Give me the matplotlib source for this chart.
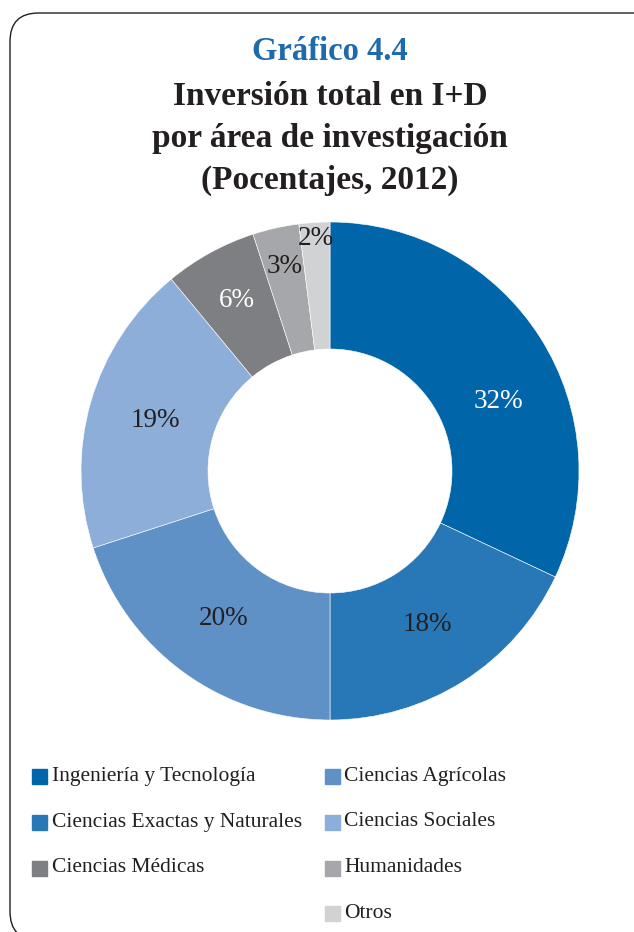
import numpy as np
import matplotlib
matplotlib.use('Agg')
import matplotlib.pyplot as plt
from matplotlib.patches import FancyBboxPatch

plt.rcParams['font.family'] = ['Liberation Serif', 'DejaVu Serif']

areas = ['Ingeniería y Tecnología', 'Ciencias Exactas y Naturales', 'Ciencias Agrícolas',
         'Ciencias Sociales', 'Ciencias Médicas', 'Humanidades', 'Otros']
shares = [32, 18, 20, 19, 6, 3, 2]
colors = ['#0066a9', '#2878b8', '#5f91c7', '#8daed9', '#7d7f83', '#a6a7ab', '#d1d2d4']
label_colors = ['white', '#231f20', '#231f20', '#231f20', 'white', '#231f20', '#231f20']

W, H = 634, 932
fig = plt.figure(figsize=(W / 100, H / 100), dpi=100)

# rounded frame that runs off the right edge
frame = FancyBboxPatch((10 / W, 1 - 940 / H), 1.1, (940 - 13) / H,
                       boxstyle='round,pad=0,rounding_size=0.045',
                       transform=fig.transFigure, fill=False,
                       edgecolor='#231f20', linewidth=1.0, mutation_aspect=W / H)
fig.patches.append(frame)

fig.text(330 / W, 1 - 51 / H, 'Gráfico 4.4', ha='center', va='center',
         fontsize=23.5, fontweight='bold', color='#1d6aad')
for y, line in [(97, 'Inversión total en I+D'), (138, 'por área de investigación'),
                (180, '(Pocentajes, 2012)')]:
    fig.text(330 / W, 1 - y / H, line, ha='center', va='center',
             fontsize=24, fontweight='bold', color='#231f20')

# donut
cx, cy, R = 330, 471, 249
ax = fig.add_axes([(cx - R) / W, 1 - (cy + R) / H, 2 * R / W, 2 * R / H])
wedges, _ = ax.pie(shares, colors=colors, startangle=90, counterclock=False,
                   radius=1.0, wedgeprops=dict(width=0.51, edgecolor='white', linewidth=0.4))
ax.set_xlim(-1, 1)
ax.set_ylim(-1, 1)
ax.set_aspect('equal')

# label radius: small slices sit further out
cum = np.cumsum([0] + shares[:-1])
for i, (s, c0) in enumerate(zip(shares, cum)):
    ang = np.deg2rad(90 - (c0 + s / 2) * 3.6)
    r = 0.73
    if s <= 6:
        r = {6: 0.78, 3: 0.84, 2: 0.935}[s]
    if s == 32:
        ang -= np.deg2rad(10)
    ax.text(r * np.cos(ang), r * np.sin(ang), f'{s}%', ha='center', va='center',
            fontsize=19.5, color=label_colors[i])

# legend laid out in two columns
left_col = [0, 1, 4]
right_col = [2, 3, 5, 6]
rows = [777, 823, 869, 914]
for col, x_sq, x_txt in [(left_col, 32, 52), (right_col, 325, 344)]:
    for j, i in enumerate(col):
        y = rows[j]
        fig.patches.append(plt.Rectangle((x_sq / W, 1 - (y + 7) / H), 15 / W, 15 / H,
                                         transform=fig.transFigure, color=colors[i]))
        fig.text(x_txt / W, 1 - (y - 1) / H, areas[i], ha='left', va='center',
                 fontsize=15.5, color='#231f20')

fig.savefig('out.png', dpi=100)
